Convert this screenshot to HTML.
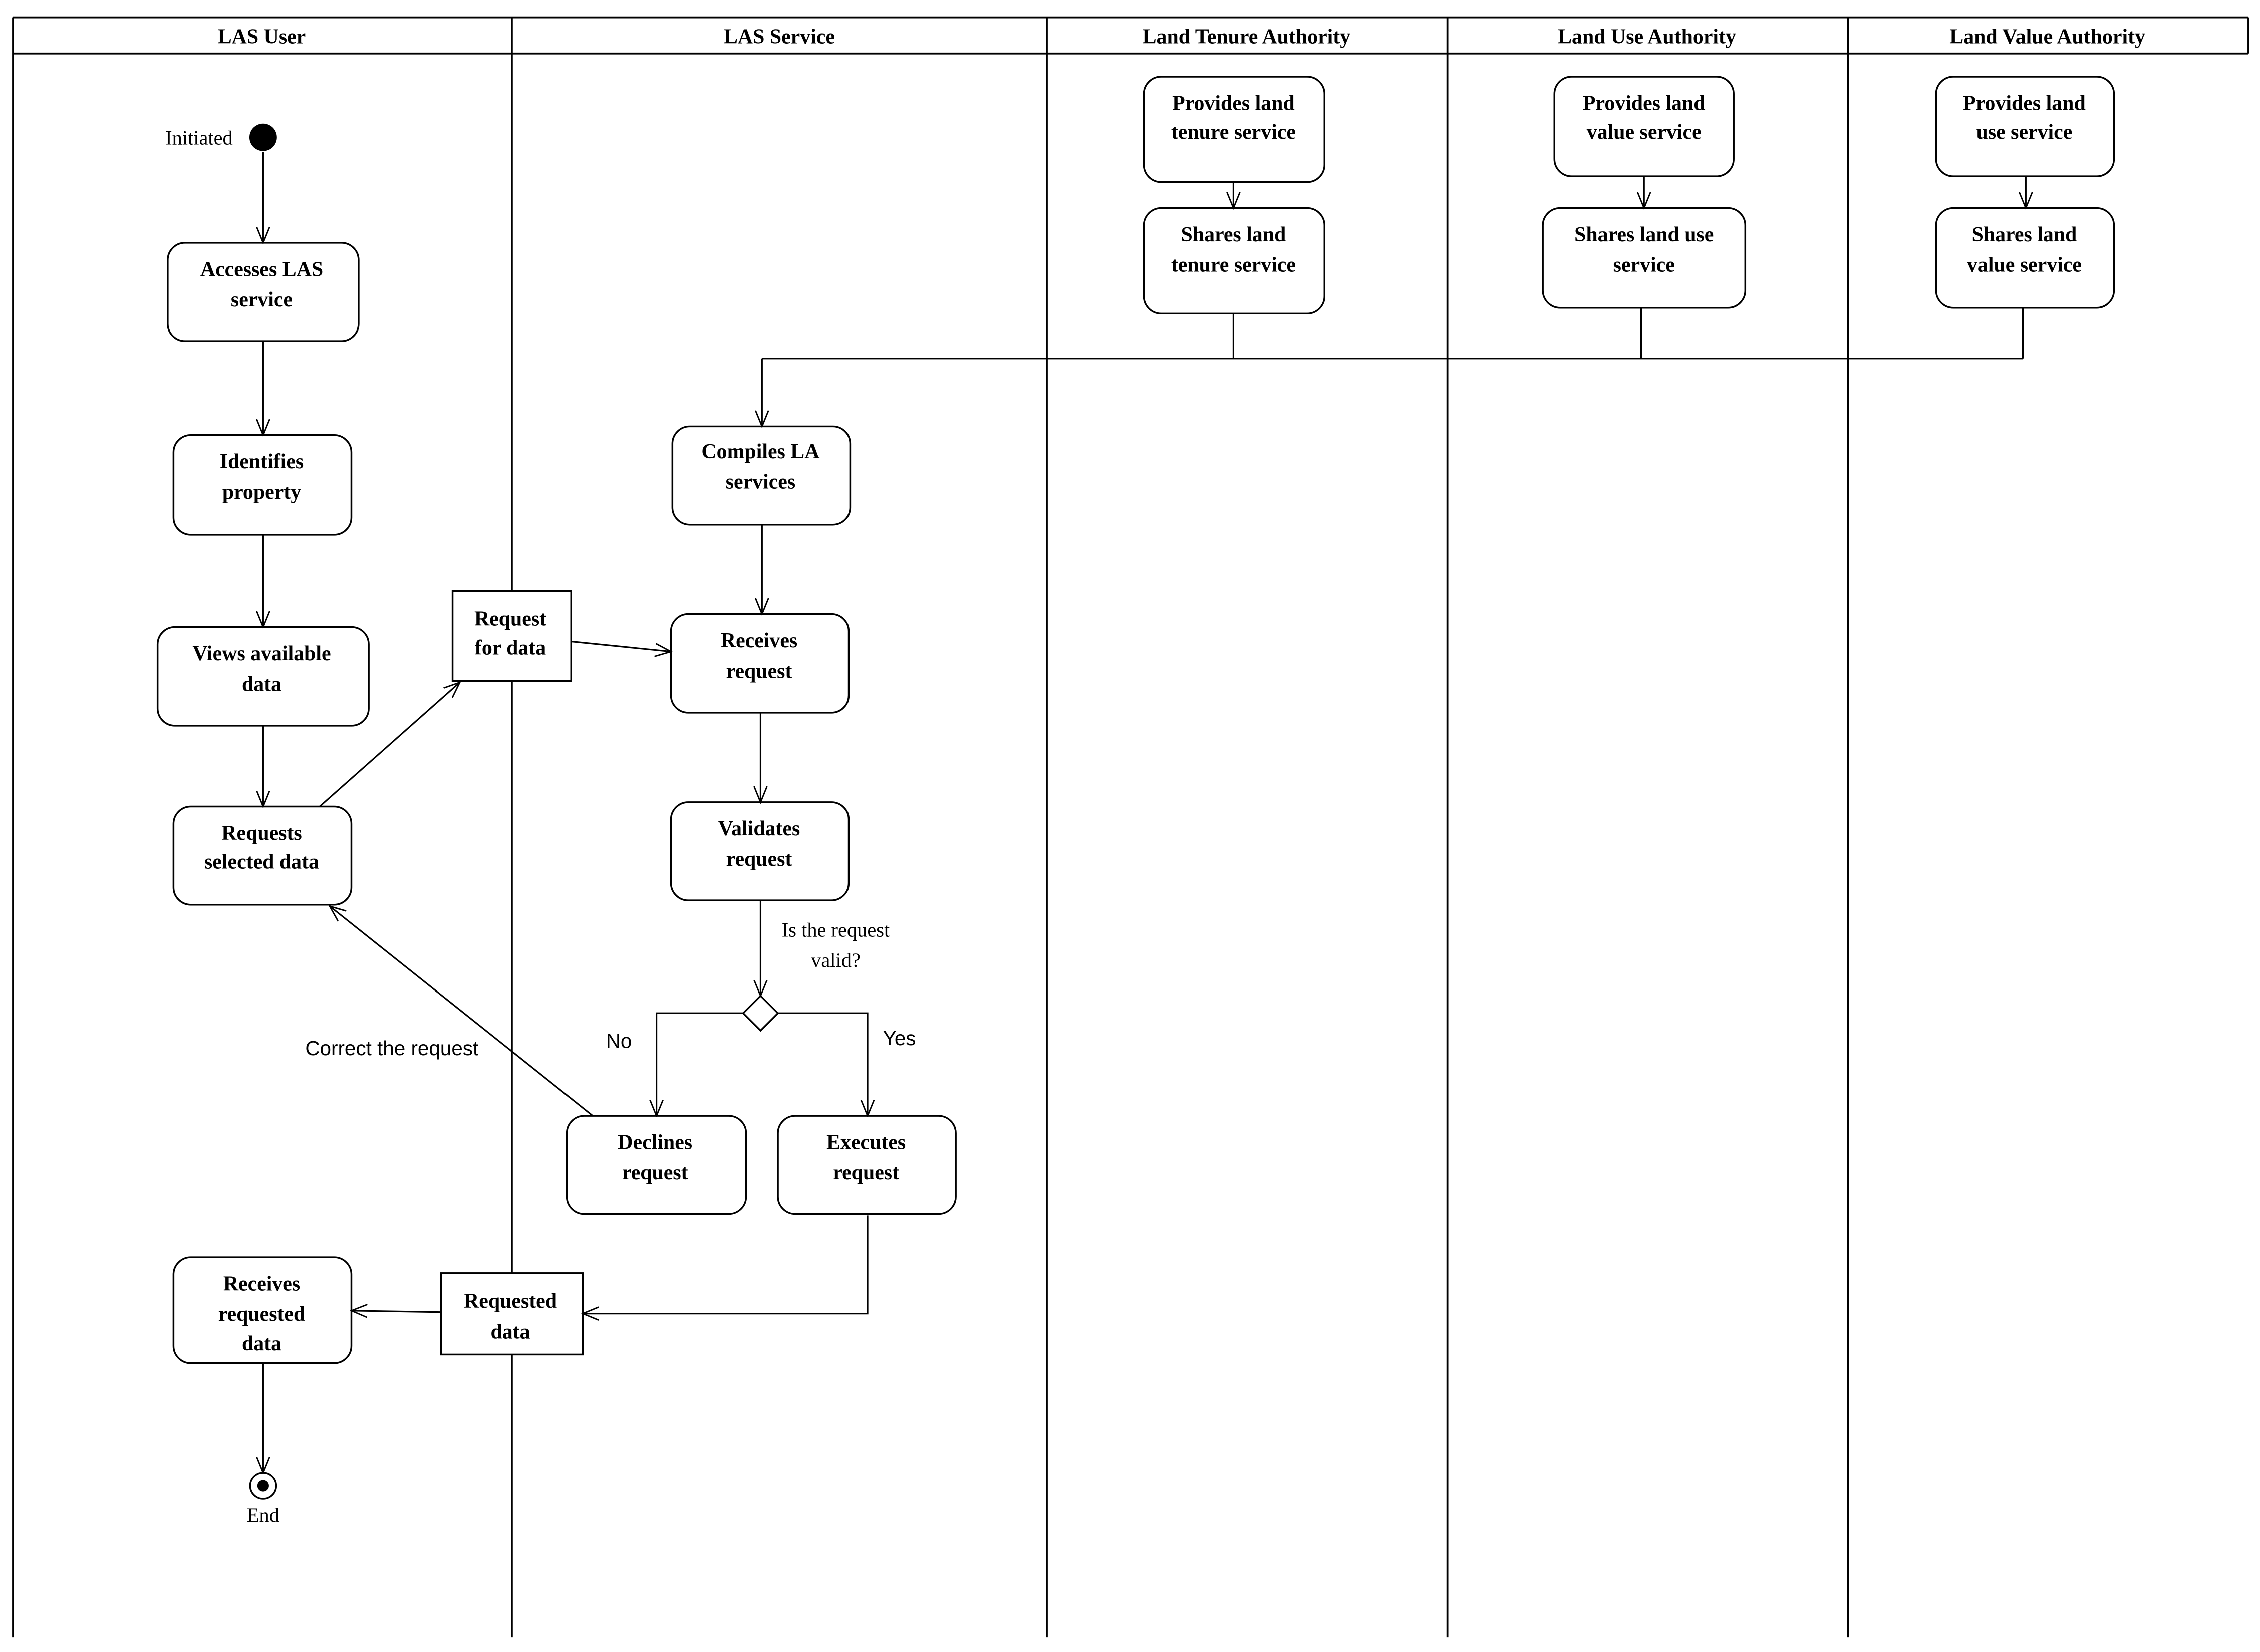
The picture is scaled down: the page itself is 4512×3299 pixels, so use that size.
<!DOCTYPE html>
<html><head><meta charset="utf-8"><style>
html,body{margin:0;padding:0;background:#fff}
svg{display:block}
.b{font-family:"Liberation Serif",serif;font-weight:bold;font-size:14.5px;text-anchor:middle}
.n{font-family:"Liberation Serif",serif;font-size:14px}
.s{font-family:"Liberation Sans",sans-serif;font-size:14px}
</style></head><body>
<svg width="4512" height="3299" viewBox="0 0 1563 1143" preserveAspectRatio="none" xmlns="http://www.w3.org/2000/svg">
<defs><marker id="a" viewBox="0 0 12 12" refX="11" refY="6" markerWidth="12" markerHeight="12" markerUnits="userSpaceOnUse" orient="auto"><path d="M0,1.5 L11,6 L0,10.5" fill="none" stroke="#000" stroke-width="1"/></marker></defs>
<rect width="1563" height="1143" fill="#fff"/>
<g stroke="#000" stroke-width="1.3" fill="none">
<line x1="9" y1="12" x2="1555" y2="12"/><line x1="9" y1="37" x2="1555" y2="37"/>
<line x1="9" y1="12" x2="9" y2="1133"/><line x1="354" y1="12" x2="354" y2="1133"/><line x1="724" y1="12" x2="724" y2="1133"/><line x1="1001" y1="12" x2="1001" y2="1133"/><line x1="1278" y1="12" x2="1278" y2="1133"/><line x1="1555" y1="12" x2="1555" y2="37"/>
</g>
<g class="b"><text x="181" y="30">LAS User</text><text x="539" y="30">LAS Service</text><text x="862" y="30">Land Tenure Authority</text><text x="1139" y="30">Land Use Authority</text><text x="1416" y="30">Land Value Authority</text></g>
<g stroke="#000" stroke-width="1.2" fill="#fff">
<rect x="116" y="168" width="132" height="68" rx="12"/>
<rect x="120" y="301" width="123" height="69" rx="12"/>
<rect x="109" y="434" width="146" height="68" rx="12"/>
<rect x="120" y="558" width="123" height="68" rx="12"/>
<rect x="313" y="409" width="82" height="62"/>
<rect x="120" y="870" width="123" height="73" rx="12"/>
<rect x="305" y="881" width="98" height="56"/>
<rect x="465" y="295" width="123" height="68" rx="12"/>
<rect x="464" y="425" width="123" height="68" rx="12"/>
<rect x="464" y="555" width="123" height="68" rx="12"/>
<rect x="392" y="772" width="124" height="68" rx="12"/>
<rect x="538" y="772" width="123" height="68" rx="12"/>
<rect x="791" y="53" width="125" height="73" rx="12"/>
<rect x="791" y="144" width="125" height="73" rx="12"/>
<rect x="1075" y="53" width="124" height="69" rx="12"/>
<rect x="1067" y="144" width="140" height="69" rx="12"/>
<rect x="1339" y="53" width="123" height="69" rx="12"/>
<rect x="1339" y="144" width="123" height="69" rx="12"/>
<path d="M526,689 L538,701 L526,713 L514,701 Z"/>
<circle cx="182" cy="1028" r="9"/>
</g>
<circle cx="182" cy="95" r="9.5" fill="#000"/>
<circle cx="182" cy="1028" r="4" fill="#000"/>
<g stroke="#000" stroke-width="1.1" fill="none" marker-end="url(#a)">
<path d="M182,105 V168"/><path d="M182,236 V301"/><path d="M182,370 V434"/><path d="M182,502 V558"/>
<path d="M182,943 V1019"/>
<path d="M853,126 V144"/><path d="M1137,122 V144"/><path d="M1401,122 V144"/>
<path d="M527,248 V295"/>
<path d="M527,363 V425"/><path d="M526,493 V555"/><path d="M526,623 V689"/>
<path d="M514,701 H454 V772"/><path d="M538,701 H600 V772"/>
<path d="M410,772 L228,627"/>
<path d="M221,558 L318,472"/>
<path d="M395,444 L464,451"/>
<path d="M600,841 V909 H403"/>
<path d="M305,908 L243,907"/>
</g>
<g stroke="#000" stroke-width="1.1" fill="none">
<path d="M853,217 V248"/><path d="M1135,213 V248"/><path d="M1399,213 V248"/><path d="M527,248 H1399"/>
</g>
<g class="b">
<text x="181" y="191">Accesses LAS</text><text x="181" y="212">service</text>
<text x="181" y="324">Identifies</text><text x="181" y="345">property</text>
<text x="181" y="457">Views available</text><text x="181" y="478">data</text>
<text x="181" y="581">Requests</text><text x="181" y="601">selected data</text>
<text x="353" y="433">Request</text><text x="353" y="453">for data</text>
<text x="181" y="893">Receives</text><text x="181" y="914">requested</text><text x="181" y="934">data</text>
<text x="353" y="905">Requested</text><text x="353" y="926">data</text>
<text x="526" y="317">Compiles LA</text><text x="526" y="338">services</text>
<text x="525" y="448">Receives</text><text x="525" y="469">request</text>
<text x="525" y="578">Validates</text><text x="525" y="599">request</text>
<text x="453" y="795">Declines</text><text x="453" y="816">request</text>
<text x="599" y="795">Executes</text><text x="599" y="816">request</text>
<text x="853" y="76">Provides land</text><text x="853" y="96">tenure service</text>
<text x="853" y="167">Shares land</text><text x="853" y="188">tenure service</text>
<text x="1137" y="76">Provides land</text><text x="1137" y="96">value service</text>
<text x="1137" y="167">Shares land use</text><text x="1137" y="188">service</text>
<text x="1400" y="76">Provides land</text><text x="1400" y="96">use service</text>
<text x="1400" y="167">Shares land</text><text x="1400" y="188">value service</text>
</g>
<g class="n">
<text x="161" y="100" text-anchor="end">Initiated</text>
<text x="182" y="1053" text-anchor="middle">End</text>
<text x="578" y="648" text-anchor="middle">Is the request</text>
<text x="578" y="669" text-anchor="middle">valid?</text>
</g>
<g class="s">
<text x="428" y="725" text-anchor="middle">No</text>
<text x="622" y="723" text-anchor="middle">Yes</text>
<text x="271" y="730" text-anchor="middle">Correct the request</text>
</g>
</svg>
</body></html>
